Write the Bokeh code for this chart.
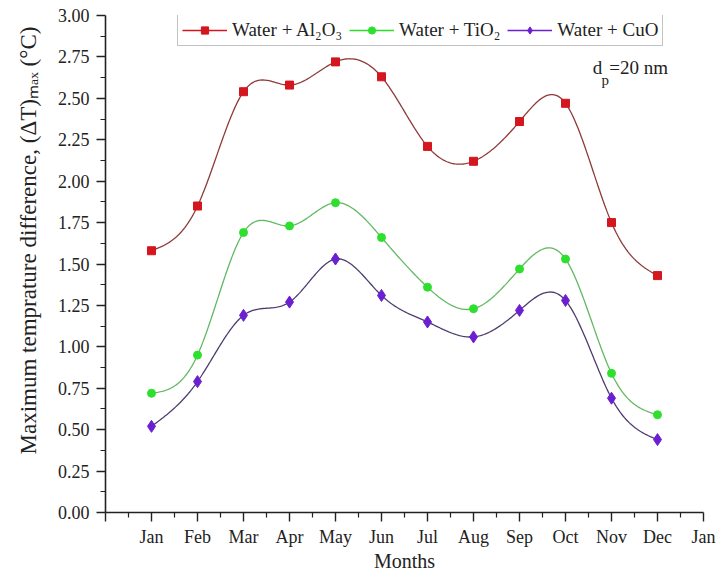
import numpy as np
from bokeh.plotting import figure
from bokeh.models import (Range1d, FixedTicker, Legend, LegendItem, Label,
                          ColumnDataSource, Title)
from bokeh.embed import file_html
from bokeh.resources import INLINE

# Monthly maximum temperature difference (degC), particle size 20 nm
months = ["Jan", "Feb", "Mar", "Apr", "May", "Jun",
          "Jul", "Aug", "Sep", "Oct", "Nov", "Dec"]
month_pos = list(range(1, 13))
al2o3 = [1.58, 1.85, 2.54, 2.58, 2.72, 2.63, 2.21, 2.12, 2.36, 2.47, 1.75, 1.43]
tio2 = [0.72, 0.95, 1.69, 1.73, 1.87, 1.66, 1.36, 1.23, 1.47, 1.53, 0.84, 0.59]
cuo = [0.52, 0.79, 1.19, 1.27, 1.53, 1.31, 1.15, 1.06, 1.22, 1.28, 0.69, 0.44]

x_tick_labels = [""] + months + ["Jan"]
y_ticks = [0.0, 0.25, 0.5, 0.75, 1.0, 1.25, 1.5, 1.75, 2.0, 2.25, 2.5, 2.75, 3.0]

FONT = "Liberation Serif"
INK = "#222222"


def natural_spline(xs, ys, per_seg=40):
    """Smooth connecting curve through the points (natural cubic spline)."""
    xs = np.asarray(xs, float)
    ys = np.asarray(ys, float)
    n = len(xs)
    h = np.diff(xs)
    A = np.zeros((n, n))
    b = np.zeros(n)
    A[0, 0] = A[-1, -1] = 1.0
    for i in range(1, n - 1):
        A[i, i - 1] = h[i - 1]
        A[i, i] = 2 * (h[i - 1] + h[i])
        A[i, i + 1] = h[i]
        b[i] = 6 * ((ys[i + 1] - ys[i]) / h[i] - (ys[i] - ys[i - 1]) / h[i - 1])
    M = np.linalg.solve(A, b)
    out_x, out_y = [], []
    for i in range(n - 1):
        t = np.linspace(xs[i], xs[i + 1], per_seg, endpoint=(i == n - 2))
        a = xs[i + 1] - t
        c = t - xs[i]
        y = (M[i] * a ** 3 + M[i + 1] * c ** 3) / (6 * h[i]) \
            + (ys[i] / h[i] - M[i] * h[i] / 6) * a \
            + (ys[i + 1] / h[i] - M[i + 1] * h[i] / 6) * c
        out_x.extend(t)
        out_y.extend(y)
    return out_x, out_y


p = figure(width=720, height=574, output_backend="svg", toolbar_location=None,
           x_range=Range1d(0, 13), y_range=Range1d(0, 3),
           min_border_left=105, min_border_right=17,
           min_border_top=15, min_border_bottom=62)
p.outline_line_color = None
p.grid.visible = False
p.background_fill_color = "white"
p.border_fill_color = "white"

series = [
    (al2o3, "#8e3a3a", "#d4161e", "square", 8, "Water + Al\u2082O\u2083"),
    (tio2, "#62b862", "#2ee02e", "circle", 8, "Water + TiO\u2082"),
    (cuo, "#4e3c6e", "#6a1fd0", "diamond", 12, "Water + CuO"),
]

items = []
for vals, curve_col, mark_col, marker, size, name in series:
    sx, sy = natural_spline(month_pos, vals)
    p.line(sx, sy, line_color=curve_col, line_width=1.3)
    src = ColumnDataSource(dict(x=month_pos, y=vals))
    p.scatter("x", "y", source=src, marker=marker, size=size,
              fill_color=mark_col, line_color=mark_col)
    # legend key: bright line with marker, kept outside the visible range
    lr = p.line([-5, -4], [-5, -5], line_color=mark_col, line_width=1.3)
    mr = p.scatter([-5], [-5], marker=marker, size=size,
                   fill_color=mark_col, line_color=mark_col)
    items.append(LegendItem(label=name, renderers=[lr, mr]))

legend = Legend(items=items, orientation="horizontal", location=(72, 466),
                label_text_font=FONT, label_text_font_size="19px",
                label_text_color=INK, label_height=20,
                glyph_width=45, glyph_height=18, label_standoff=5,
                spacing=7, padding=4, margin=0,
                border_line_color="#888888", border_line_width=1,
                background_fill_alpha=1.0)
p.add_layout(legend, "center")

# particle diameter annotation
p.add_layout(Label(x=10.59, y=2.686, text="d", text_font=FONT,
                   text_font_size="19px", text_color=INK,
                   text_baseline="alphabetic"))
p.add_layout(Label(x=10.78, y=2.61, text="p", text_font=FONT,
                   text_font_size="15px", text_color=INK,
                   text_baseline="alphabetic"))
p.add_layout(Label(x=10.95, y=2.686, text="=20 nm", text_font=FONT,
                   text_font_size="19px", text_color=INK,
                   text_baseline="alphabetic"))

# vertical axis title, set in the left margin beside the tick labels
y_title = Title(text="Maximum temprature difference, (\u0394T)\u2098\u2090\u2093 (\u00b0C)",
                align="left", offset=58, standoff=27,
                text_font=FONT, text_font_size="23px",
                text_font_style="normal", text_color=INK)
p.add_layout(y_title, "left")

# axes
p.xaxis.ticker = FixedTicker(ticks=list(range(0, 14)),
                             minor_ticks=[i + 0.5 for i in range(13)])
p.xaxis.major_label_overrides = {i: lab for i, lab in enumerate(x_tick_labels)}
p.yaxis.ticker = FixedTicker(ticks=y_ticks,
                             minor_ticks=[v + 0.125 for v in y_ticks[:-1]])
p.yaxis.major_label_overrides = {v: f"{v:.2f}" for v in y_ticks}

p.xaxis.axis_label = "Months"

for ax in (p.xaxis[0], p.yaxis[0]):
    ax.axis_line_color = INK
    ax.axis_line_width = 1.6
    ax.major_tick_line_color = INK
    ax.minor_tick_line_color = INK
    ax.major_tick_line_width = 1.4
    ax.minor_tick_line_width = 1.2
    ax.major_tick_in = 0
    ax.major_tick_out = 9
    ax.minor_tick_in = 0
    ax.minor_tick_out = 5
    ax.major_label_text_font = FONT
    ax.major_label_text_font_size = "18px"
    ax.major_label_text_color = INK
    ax.axis_label_text_font = FONT
    ax.axis_label_text_font_style = "normal"
    ax.axis_label_text_color = INK

p.xaxis.major_label_standoff = 5
p.xaxis.axis_label_standoff = 0
p.xaxis.axis_label_text_font_size = "20px"
p.yaxis.major_label_standoff = 7

open("out.html", "w").write(file_html(p, INLINE))
